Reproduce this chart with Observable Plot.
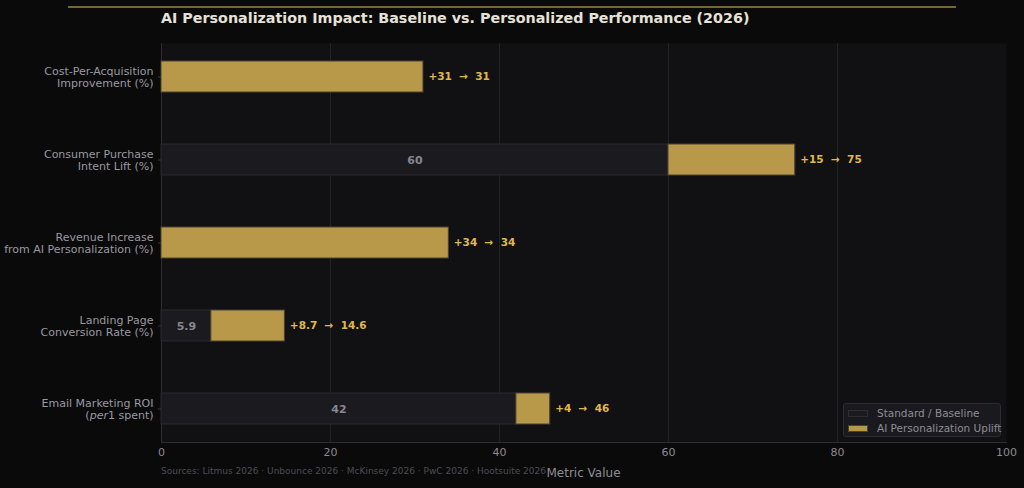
<!DOCTYPE html>
<html>
<head>
<meta charset="utf-8">
<script src="https://cdn.jsdelivr.net/npm/d3@7"></script>
<script src="https://cdn.jsdelivr.net/npm/@observablehq/plot@0.6"></script>
<style>
  body { margin: 0; background: #0a0a0a; font-family: "DejaVu Sans", sans-serif; }
  #wrap { position: relative; width: 1024px; height: 488px; overflow: hidden; background: #0a0a0a; }
  #topline { position: absolute; left: 68px; top: 6px; width: 888px; height: 2px; background: #7b6536; }
  #title { position: absolute; left: 161px; top: 10px; font-size: 14.3px; font-weight: bold; color: #e6e2d8; white-space: nowrap; }
  #chart { position: absolute; left: 0; top: 43px; }
  #source { position: absolute; left: 161px; top: 466px; font-size: 9px; color: #4d4c53; white-space: nowrap; }
  #xlabel { position: absolute; left: 0; width: 1167px; top: 466px; text-align: center; font-size: 12px; color: #8e8d95; }
  #legend { position: absolute; left: 843px; top: 403px; width: 156px; height: 32px; background: #1a1a1e; border: 1px solid #2c2c31; border-radius: 3px; }
  .item { position: absolute; left: 4px; height: 14px; display: flex; align-items: center; font-size: 10.5px; color: #8e8c96; white-space: nowrap; }
  .sw { width: 20px; height: 7px; margin-right: 9px; box-sizing: border-box; }
</style>
</head>
<body>
<div id="wrap">
  <div id="topline"></div>
  <div id="title">AI Personalization Impact: Baseline vs. Personalized Performance (2026)</div>
  <div id="chart"></div>
  <div id="source">Sources: Litmus 2026 · Unbounce 2026 · McKinsey 2026 · PwC 2026 · Hootsuite 2026</div>
  <div id="xlabel">Metric Value</div>
  <div id="legend">
    <div class="item" style="top:2px"><div class="sw" style="background:#1b1a1f;border:1px solid #2e2d33"></div>Standard / Baseline</div>
    <div class="item" style="top:17px"><div class="sw" style="background:#b8994a;border:1px solid #4b4232"></div>AI Personalization Uplift</div>
  </div>
</div>
<script>
// Metrics, top to bottom
const categories = [
  "Cost-Per-Acquisition\nImprovement (%)",
  "Consumer Purchase\nIntent Lift (%)",
  "Revenue Increase\nfrom AI Personalization (%)",
  "Landing Page\nConversion Rate (%)",
  "Email Marketing ROI\n(per1 spent)"
];
// Standard / baseline value per metric
const baseline = [0, 60, 0, 5.9, 42];
// AI personalization uplift added on top of the baseline
const uplift = [31, 15, 34, 8.7, 4];
const xTicks = [0, 20, 40, 60, 80, 100];

const rows = categories.map((label, i) => ({
  label,
  baseline: baseline[i],
  uplift: uplift[i],
  total: +(baseline[i] + uplift[i]).toFixed(1)
}));

const sp = "\u00a0\u00a0";

const chart = Plot.plot({
  width: 1024,
  height: 445,
  marginTop: 0,
  marginBottom: 46,
  marginLeft: 161,
  marginRight: 18,
  style: { background: "transparent", fontFamily: "DejaVu Sans, sans-serif", fontSize: "11px", color: "#8e8d95" },
  x: { domain: [0, 100] },
  y: { domain: categories, paddingInner: 0.627, paddingOuter: 0.217 },
  marks: [
    Plot.frame({ fill: "#111114", stroke: null }),
    Plot.ruleX([20, 40, 60, 80], { stroke: "#222227", strokeWidth: 1 }),
    Plot.ruleX([0], { stroke: "#2c2c31" }),
    Plot.frame({ anchor: "bottom", stroke: "#2c2c31" }),
    Plot.barX(rows.filter(d => d.baseline > 0), {
      x1: 0, x2: "baseline", y: "label",
      fill: "#1b1a1f", stroke: "#2a292f", strokeWidth: 1
    }),
    Plot.barX(rows, {
      x1: "baseline", x2: "total", y: "label",
      fill: "#b8994a", stroke: "#4b4232", strokeWidth: 1
    }),
    Plot.text(rows.filter(d => d.baseline > 0), {
      x: d => d.baseline / 2, y: "label", text: d => String(d.baseline),
      fill: "#87868f", fontWeight: "bold", fontSize: 11
    }),
    Plot.text(rows, {
      x: "total", y: "label", dx: 5, textAnchor: "start",
      text: d => `+${d.uplift}${sp}→${sp}${d.total}`,
      fill: "#e0b84c", fontWeight: "bold", fontSize: 10.5
    }),
    Plot.axisX({ ticks: xTicks, tickSize: 0, tickPadding: 6, label: null, fill: "#8c8b93", fontSize: 11 }),
    Plot.axisY({ tickSize: 3, tickPadding: 5, stroke: "#3a3a40", fill: "#9a98a2", label: null, fontSize: 11, lineHeight: 1.08 })
  ]
});

document.getElementById("chart").appendChild(chart);

// italicise "per" in the ROI label
chart.querySelectorAll("tspan, text").forEach(el => {
  if (el.childElementCount === 0 && el.textContent === "(per1 spent)") {
    el.textContent = "(";
    const it = document.createElementNS("http://www.w3.org/2000/svg", "tspan");
    it.setAttribute("font-style", "italic");
    it.textContent = "per";
    el.appendChild(it);
    el.appendChild(document.createTextNode("1 spent)"));
  }
});
</script>
</body>
</html>
